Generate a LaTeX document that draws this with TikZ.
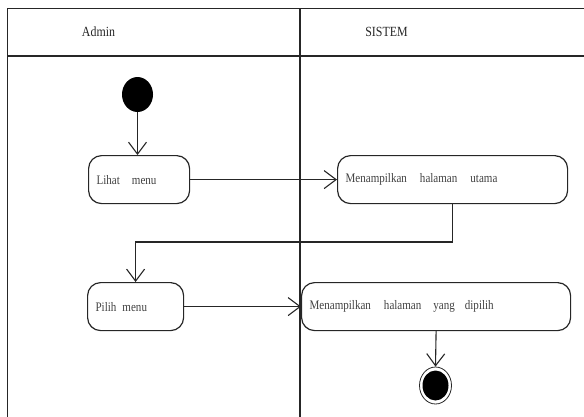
\documentclass[tikz,border=0pt]{standalone}
\usepackage{fontspec}
\setmainfont{Liberation Serif}
\newfontfamily\narrowserif[FakeStretch=0.85]{Liberation Serif}
\usetikzlibrary{arrows.meta,shapes.geometric}

\begin{document}
\begin{tikzpicture}[x=1pt,y=-1pt,
  lane/.style={line width=1.4pt, draw=black!85},
  act/.style={draw=black!85, line width=1.2pt, rounded corners=13pt,
    minimum height=48pt, inner xsep=8pt, inner ysep=0pt, align=left,
    anchor=north west, font=\narrowserif\fontsize{13}{15}\selectfont, text=black!75},
  flow/.style={draw=black!85, line width=1.1pt,
    -{Straight Barb[length=12pt,width=18pt,line width=1.1pt]}},
  head/.style={font=\narrowserif\fontsize{14}{16}\selectfont, text=black!85},
]
\useasboundingbox (0,0) rectangle (584,416);
\clip (0,0) rectangle (584,416);

% swimlane frame
\draw[lane] (7.5,420) -- (7.5,8.5) -- (590,8.5);
\draw[lane] (7.5,56) -- (590,56);
\draw[lane] (300,8.5) -- (300,420);

\node[head] (hadmin) at (98.5,32) {Admin};
\node[head] (hsistem) at (386.5,32) {SISTEM};

% activities
\node[ellipse, fill=black, minimum width=31pt, minimum height=35pt, inner sep=0pt] (start) at (137.5,94.5) {};
\node[act, text width=85pt] (lihat) at (88,155) {Lihat\hspace{12pt}menu};
\node[act, text width=214pt] (utama) at (337,155) {Menampilkan\hspace{13pt}halaman\hspace{13pt}utama};
\node[act, text width=80pt] (pilih) at (87,282) {Pilih\hspace{6pt}menu};
\node[act, text width=253pt] (dipilih) at (301,282) {Menampilkan\hspace{13pt}halaman\hspace{12pt}yang\hspace{10pt}dipilih};
\node[ellipse, draw=black!85, line width=0.8pt, minimum width=32pt, minimum height=37pt, inner sep=0pt] (end) at (435.5,385.5) {};
\node[ellipse, fill=black, minimum width=26pt, minimum height=30pt, inner sep=0pt] (endcore) at (end) {};

% control flow
\coordinate (bend) at (135,242);
\draw[flow] (start) -- (start |- lihat.north);
\draw[flow] (lihat.east) -- (utama.west);
\draw[flow] (utama.south) |- (pilih.north |- bend) -- (pilih.north);
\draw[flow] (pilih.east) -- (dipilih.west);
\draw[flow] (dipilih.south) -- (end.north);
\end{tikzpicture}
\end{document}
